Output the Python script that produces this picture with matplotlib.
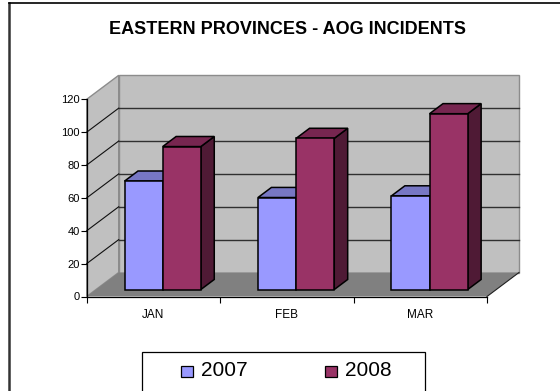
import matplotlib
matplotlib.use("Agg")
import matplotlib.pyplot as plt
from matplotlib.patches import Polygon, Rectangle
from matplotlib.lines import Line2D

plt.rcParams['font.family'] = ['Liberation Sans', 'DejaVu Sans']

# data
months = ['JAN', 'FEB', 'MAR']
years = ['2007', '2008']
incidents_2007 = [66, 56, 57]
incidents_2008 = [87, 92, 107]
y_ticks = [0, 20, 40, 60, 80, 100, 120]

series = [incidents_2007, incidents_2008]
face_colors = ['#9999FF', '#993366']
top_colors = ['#7777C4', '#772650']
side_colors = ['#4D4D80', '#4F1A35']

W, H = 560, 391
fig = plt.figure(figsize=(W / 100, H / 100), dpi=100)


def fx(x):
    return x / W


def fy(y):
    return 1 - y / H


# front plane of the 3-D box
ax = fig.add_axes([fx(86.7), fy(296.5), (487 - 86.7) / W, (296.5 - 99.3) / H])
ax.set_xlim(0, len(months))
ax.set_ylim(0, y_ticks[-1])
ax.patch.set_visible(False)

# oblique depth offset (full depth) in data units
DX = 32 / ((487 - 86.7) / len(months))
DY = 24 / ((296.5 - 99.3) / y_ticks[-1])


def proj(x, v, d):
    return (x + DX * d, v + DY * d)


def poly(pts, fc, ec, lw, z):
    ax.add_patch(Polygon(pts, closed=True, facecolor=fc, edgecolor=ec,
                         linewidth=lw, zorder=z, clip_on=False,
                         joinstyle='miter'))


n = len(months)
top = y_ticks[-1]
wall = '#C0C0C0'
# back wall, side wall and floor
poly([proj(0, 0, 1), proj(n, 0, 1), proj(n, top, 1), proj(0, top, 1)],
     wall, '#8C8C8C', 1.0, 1)
poly([proj(0, 0, 0), proj(0, top, 0), proj(0, top, 1), proj(0, 0, 1)],
     wall, '#8C8C8C', 1.0, 1)
poly([proj(0, 0, 0), proj(n, 0, 0), proj(n, 0, 1), proj(0, 0, 1)],
     '#808080', 'none', 0, 2)
ax.add_line(Line2D(*zip(proj(n, 0, 0), proj(n, 0, 1)), color='#202020',
                   lw=0.8, zorder=2, clip_on=False))

# gridlines on the back and side walls
for v in y_ticks[1:-1]:
    ax.add_line(Line2D(*zip(proj(0, v, 1), proj(n, v, 1)), color='#303030',
                       lw=1.0, zorder=3, clip_on=False))
    ax.add_line(Line2D(*zip(proj(0, v, 0), proj(0, v, 1)), color='#101010',
                       lw=0.8, zorder=3, clip_on=False))

# 3-D bars
bar_w = 1 / (len(years) + 1.5)
d0, d1 = 0.29, 0.71
for i in range(n):
    for s, vals in enumerate(series):
        v = vals[i]
        x0 = i + 0.5 - bar_w * len(years) / 2 + s * bar_w
        x1 = x0 + bar_w
        z = 4 + s * 0.1
        poly([proj(x1, 0, d0), proj(x1, v, d0), proj(x1, v, d1), proj(x1, 0, d1)],
             side_colors[s], 'black', 1.1, z)
        poly([proj(x0, v, d0), proj(x1, v, d0), proj(x1, v, d1), proj(x0, v, d1)],
             top_colors[s], 'black', 1.1, z)
        poly([proj(x0, 0, d0), proj(x1, 0, d0), proj(x1, v, d0), proj(x0, v, d0)],
             face_colors[s], 'black', 1.1, z)

# axes
for side in ['top', 'right']:
    ax.spines[side].set_visible(False)
for side in ['left', 'bottom']:
    ax.spines[side].set_color('black')
    ax.spines[side].set_linewidth(0.9)
    ax.spines[side].set_zorder(6)

ax.set_yticks(y_ticks)
ax.tick_params(axis='y', direction='out', length=4, width=0.8, pad=1,
               labelsize=8, colors='black')
ax.set_xticks(range(n + 1))
ax.set_xticklabels([])
ax.set_xticks([i + 0.5 for i in range(n)], minor=True)
ax.set_xticklabels(months, minor=True)
ax.tick_params(axis='x', which='major', direction='out', length=4.5, width=0.8)
ax.tick_params(axis='x', which='minor', length=0, pad=9, labelsize=8.5)

# title
fig.text(fx(287.5), fy(29), 'EASTERN PROVINCES - AOG INCIDENTS',
         ha='center', va='center', fontsize=13, fontweight='bold')

# chart frame (left and top edges)
fig.add_artist(Line2D([fx(8.5), fx(8.5)], [fy(2.5), fy(H + 5)],
                      transform=fig.transFigure, color='#333333', lw=1.8))
fig.add_artist(Line2D([fx(8.5), fx(W + 5)], [fy(2.5), fy(2.5)],
                      transform=fig.transFigure, color='black', lw=1.2))

# legend
fig.add_artist(Rectangle((fx(142), fy(H + 5)), (425 - 142) / W, (H + 5 - 352) / H,
                         transform=fig.transFigure, facecolor='white',
                         edgecolor='black', lw=0.9))
leg_x = [181, 325]
for s, label in enumerate(years):
    fig.add_artist(Rectangle((fx(leg_x[s]), fy(377)), 12 / W, 11 / H,
                             transform=fig.transFigure, facecolor=face_colors[s],
                             edgecolor='black', lw=0.9))
    fig.text(fx(leg_x[s] + 20), fy(370.5), label, ha='left', va='center',
             fontsize=15)

fig.savefig('out.png', dpi=100)
